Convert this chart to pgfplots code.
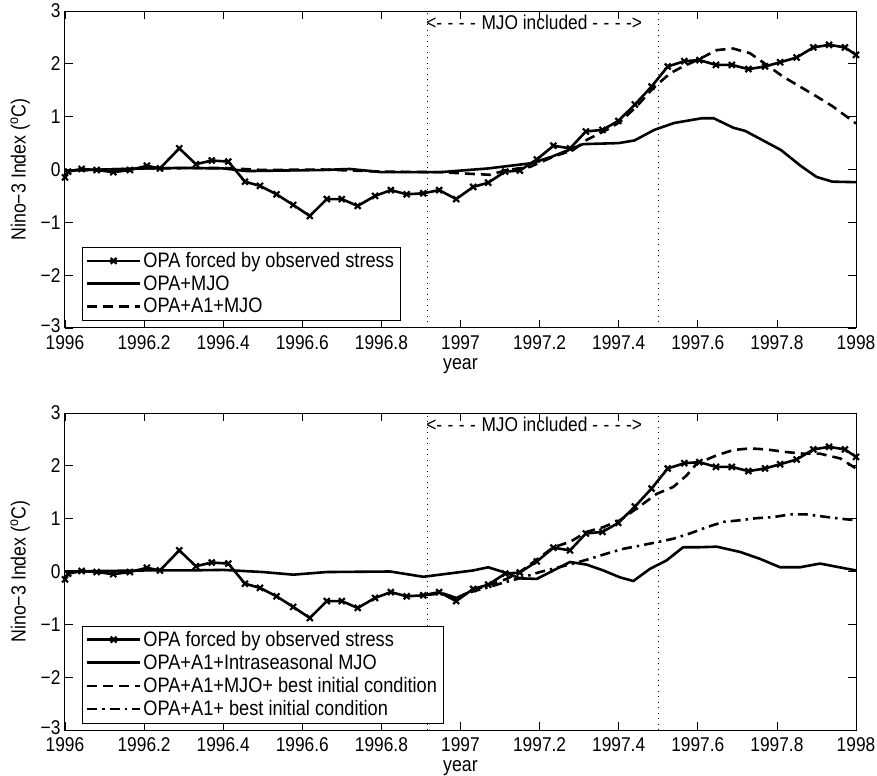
\documentclass[border=0pt]{standalone}
\usepackage{fontspec}
\setmainfont{Liberation Sans}[FakeStretch=0.87]
\usepackage{pgfplots}
\pgfplotsset{compat=1.18}
\pgfplotstableread{
x y
1996.000 -0.15
1996.008 -0.04
1996.042 0.01
1996.080 -0.01
1996.122 -0.05
1996.164 -0.01
1996.207 0.07
1996.240 0.02
1996.289 0.40
1996.331 0.10
1996.371 0.17
1996.413 0.15
1996.455 -0.23
1996.493 -0.31
1996.535 -0.47
1996.577 -0.67
1996.619 -0.88
1996.662 -0.56
1996.700 -0.56
1996.740 -0.69
1996.784 -0.50
1996.824 -0.39
1996.864 -0.47
1996.906 -0.45
1996.946 -0.39
1996.989 -0.56
1997.032 -0.33
1997.070 -0.25
1997.113 -0.04
1997.150 -0.02
1997.193 0.19
1997.235 0.45
1997.277 0.40
1997.317 0.72
1997.359 0.75
1997.399 0.92
1997.441 1.23
1997.483 1.57
1997.524 1.95
1997.566 2.05
1997.604 2.07
1997.646 1.98
1997.686 1.98
1997.728 1.90
1997.770 1.95
1997.808 2.03
1997.850 2.12
1997.892 2.31
1997.932 2.36
1997.972 2.31
1998.000 2.17
}\obs
\pgfplotstableread{
x y
1996.00 -0.02
1996.10 0.00
1996.20 0.02
1996.30 0.03
1996.40 0.02
1996.46 -0.03
1996.55 -0.02
1996.65 -0.01
1996.72 0.01
1996.80 -0.05
1996.90 -0.05
1996.95 -0.05
1997.07 0.02
1997.18 0.12
1997.23 0.24
1997.31 0.48
1997.40 0.50
1997.44 0.55
1997.49 0.75
1997.54 0.88
1997.61 0.97
1997.64 0.97
1997.69 0.79
1997.72 0.73
1997.81 0.37
1997.86 0.07
1997.90 -0.14
1997.94 -0.23
1998.00 -0.24
}\mjo
\pgfplotstableread{
x y
1996.00 -0.02
1996.20 0.02
1996.40 0.03
1996.50 -0.01
1996.65 0.00
1996.80 -0.04
1996.95 -0.05
1997.02 -0.08
1997.075 -0.10
1997.117 -0.01
1997.176 0.05
1997.234 0.24
1997.285 0.37
1997.319 0.56
1997.370 0.75
1997.403 0.90
1997.445 1.19
1997.487 1.54
1997.530 1.82
1997.555 1.92
1997.606 2.10
1997.648 2.26
1997.689 2.29
1997.732 2.20
1997.774 1.98
1997.815 1.76
1997.858 1.57
1997.901 1.38
1997.942 1.19
1998.000 0.87
}\aonemjo
\pgfplotstableread{
x y
1996.00 0.00
1996.20 0.02
1996.30 0.02
1996.40 0.03
1996.50 -0.01
1996.577 -0.06
1996.662 -0.01
1996.822 0.00
1996.906 -0.10
1997.032 0.02
1997.070 0.08
1997.117 -0.03
1997.150 -0.13
1997.193 -0.14
1997.235 0.02
1997.277 0.18
1997.319 0.13
1997.361 0.02
1997.403 -0.11
1997.437 -0.18
1997.479 0.05
1997.521 0.21
1997.563 0.46
1997.606 0.46
1997.648 0.47
1997.707 0.37
1997.757 0.24
1997.808 0.08
1997.858 0.08
1997.909 0.15
1997.951 0.09
1998.000 0.02
}\intra
\pgfplotstableread{
x y
1996.916 -0.44
1996.950 -0.40
1996.990 -0.50
1997.030 -0.36
1997.066 -0.27
1997.117 -0.14
1997.150 -0.01
1997.201 0.27
1997.235 0.46
1997.277 0.56
1997.319 0.75
1997.361 0.84
1997.403 0.97
1997.445 1.19
1997.496 1.47
1997.538 1.60
1997.572 1.82
1997.597 2.04
1997.648 2.20
1997.690 2.30
1997.732 2.33
1997.774 2.31
1997.825 2.26
1997.867 2.23
1997.909 2.23
1997.960 2.14
1998.000 1.95
}\bestmjo
\pgfplotstableread{
x y
1996.916 -0.44
1996.950 -0.42
1996.990 -0.50
1997.030 -0.38
1997.070 -0.30
1997.100 -0.23
1997.158 -0.11
1997.201 -0.01
1997.285 0.15
1997.327 0.24
1997.370 0.34
1997.412 0.43
1997.454 0.49
1997.500 0.56
1997.538 0.62
1997.580 0.72
1997.623 0.84
1997.665 0.94
1997.707 0.97
1997.749 1.01
1997.791 1.03
1997.833 1.08
1997.875 1.08
1997.917 1.04
1997.960 1.00
1998.000 0.97
}\best
\newcommand\dsh{-\kern5.5bp}
\begin{document}
\begin{tikzpicture}[font=\fontsize{20}{22}\selectfont]
\path[use as bounding box] (-65bp,11bp) rectangle (812bp,-765bp);
\pgfplotsset{
  myax/.style={
    scale only axis, width=791bp, height=317bp,
    xmin=1996, xmax=1998, ymin=-3, ymax=3,
    xtick={1996,1996.2,1996.4,1996.6,1996.8,1997,1997.2,1997.4,1997.6,1997.8,1998},
    xticklabels={1996,1996.2,1996.4,1996.6,1996.8,1997,1997.2,1997.4,1997.6,1997.8,1998},
    ytick={-3,-2,-1,0,1,2,3},
    yticklabels={\raisebox{4bp}{−3},−2,−1,0,1,2,3},
    tick align=inside, major tick length=8bp,
    every tick/.style={black,line width=0.8bp},
    axis line style={line width=1bp},
    ticklabel style={font=\fontsize{20}{22}\selectfont},
    xticklabel style={yshift=-4bp},
    yticklabel style={xshift=-1bp},
    label style={font=\fontsize{20.5}{22}\selectfont},
    xlabel={year}, ylabel={Nino−3 Index (\textsuperscript{o}C)},
    xlabel style={yshift=-2.5bp},
    ylabel style={yshift=4bp},
    legend cell align=left,
    legend image code/.code={\draw[mark repeat=2,mark phase=2,##1] plot coordinates {(0bp,0bp) (26.5bp,0bp) (53bp,0bp)};},
    legend style={anchor=south west, draw=black, fill=white,
      inner xsep=4bp, inner ysep=3.5bp, row sep=2.5bp,
      font=\fontsize{21}{22}\selectfont},
  },
  obsst/.style={black, line width=2.6bp, mark=x, mark size=4.2bp, mark options={solid,line width=2.2bp}},
  solst/.style={black, line width=2.6bp, no markers},
  dashst/.style={black, line width=2.6bp, no markers, dash pattern=on 10bp off 6bp},
  ddst/.style={black, line width=2.6bp, no markers, dash pattern=on 10bp off 5bp on 2.5bp off 5bp},
  vline/.style={black, line width=0.8bp, dash pattern=on 1bp off 4.5bp, forget plot, no markers},
}
\begin{axis}[myax, at={(0,0)}, anchor=north west,
  legend style={at={(0.021,0.025)}}]
\addplot[vline] coordinates {(1996.916,-3) (1996.916,3)};
\addplot[vline] coordinates {(1997.5,-3) (1997.5,3)};
\addplot[obsst] table[x=x,y=y] {\obs};
\addlegendentry{OPA forced by observed stress}
\addplot[solst] table[x=x,y=y] {\mjo};
\addlegendentry{OPA+MJO}
\addplot[dashst] table[x=x,y=y] {\aonemjo};
\addlegendentry{OPA+A1+MJO}
\node[anchor=west, inner sep=0pt] at (axis cs:1996.913,2.79) {<\dsh\dsh\dsh\dsh MJO included \dsh\dsh\dsh\dsh\kern-5.5bp>};
\end{axis}
\begin{axis}[myax, at={(0,-402bp)}, anchor=north west,
  legend style={at={(0.021,0.022)}}]
\addplot[vline] coordinates {(1996.916,-3) (1996.916,3)};
\addplot[vline] coordinates {(1997.5,-3) (1997.5,3)};
\addplot[obsst] table[x=x,y=y] {\obs};
\addlegendentry{OPA forced by observed stress}
\addplot[solst] table[x=x,y=y] {\intra};
\addlegendentry{OPA+A1+Intraseasonal MJO}
\addplot[dashst] table[x=x,y=y] {\bestmjo};
\addlegendentry{OPA+A1+MJO+ best initial condition}
\addplot[ddst] table[x=x,y=y] {\best};
\addlegendentry{OPA+A1+ best initial condition}
\node[anchor=west, inner sep=0pt] at (axis cs:1996.913,2.79) {<\dsh\dsh\dsh\dsh MJO included \dsh\dsh\dsh\dsh\kern-5.5bp>};
\end{axis}
\end{tikzpicture}
\end{document}
